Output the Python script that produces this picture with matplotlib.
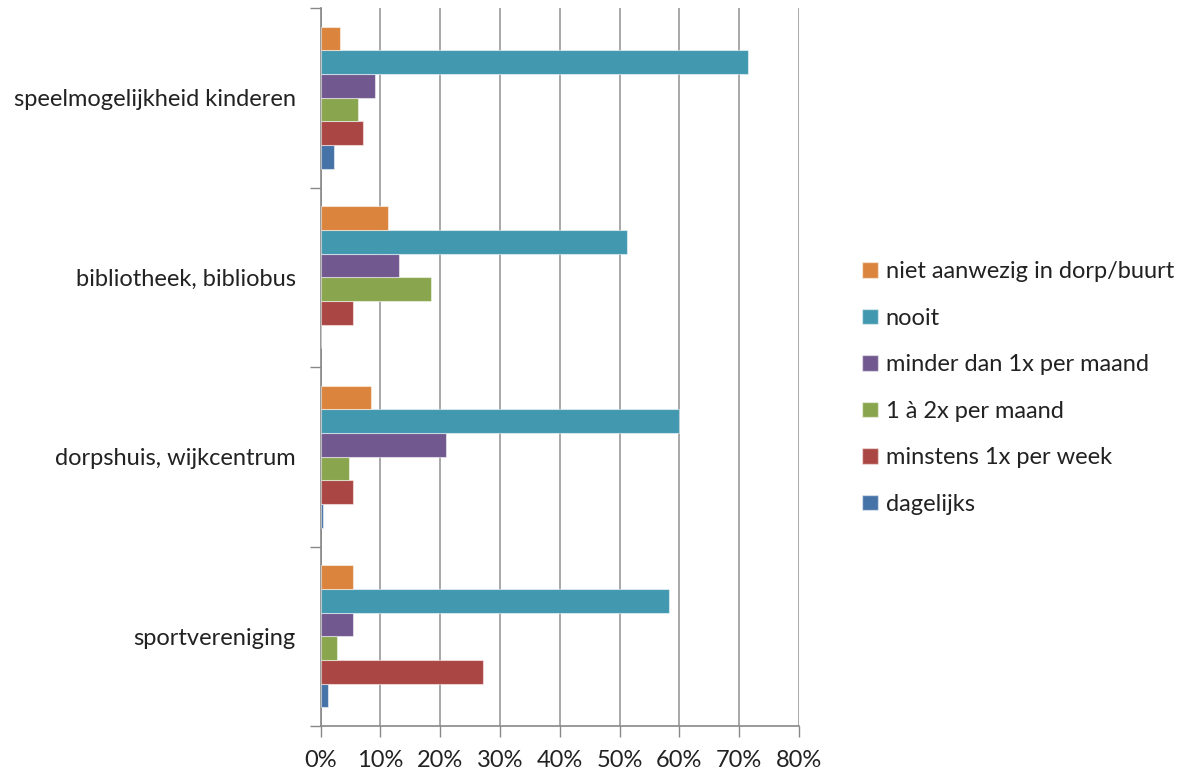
import matplotlib
matplotlib.use("Agg")
import matplotlib.pyplot as plt
import numpy as np
from matplotlib.patches import Patch

categories = ["sportvereniging", "dorpshuis, wijkcentrum", "bibliotheek, bibliobus", "speelmogelijkheid kinderen"]
series_names = ["dagelijks", "minstens 1x per week", "1 à 2x per maand",
                "minder dan 1x per maand", "nooit", "niet aanwezig in dorp/buurt"]
# values per series, in category order above (percent)
dagelijks = [1.3, 0.4, 0.0, 2.3]
minstens_week = [27.1, 5.4, 5.4, 7.1]
een_twee_maand = [2.7, 4.8, 18.4, 6.2]
minder_maand = [5.4, 21.0, 13.2, 9.1]
nooit = [58.2, 60.0, 51.3, 71.4]
niet_aanwezig = [5.4, 8.4, 11.3, 3.3]
series_values = [dagelijks, minstens_week, een_twee_maand, minder_maand, nooit, niet_aanwezig]
colors = ["#4572A7", "#AA4643", "#89A54E", "#71588F", "#4198AF", "#DB843D"]
xticks = [0, 10, 20, 30, 40, 50, 60, 70, 80]

plt.rcParams['font.family'] = ['Lato', 'DejaVu Sans']
FS = 17
fig = plt.figure(figsize=(11.84, 7.71), dpi=100)
ax = fig.add_axes([320.5/1184, 1-726/771, (799-320.5)/1184, (726-8)/771])

n = len(series_names)
bh = 0.132
y = np.arange(len(categories))
for i, (vals, c) in enumerate(zip(series_values, colors)):
    offs = (i - (n-1)/2) * bh
    ax.barh(y + offs, vals, height=bh, color=c, edgecolor=(1, 1, 1, 0.5), linewidth=0.8, zorder=3)

ax.set_xlim(0, 80)
ax.set_ylim(-0.5, len(categories)-0.5)
ax.set_xticks(xticks)
ax.set_xticklabels([f"{t}%" for t in xticks], fontsize=FS, color="#222222")
ax.set_yticks(y)
ax.set_yticklabels(categories, fontsize=FS, color="#222222")
ax.set_yticks(np.arange(-0.5, len(categories)), minor=True)
ax.tick_params(axis='y', which='major', length=0, pad=18)
ax.tick_params(axis='y', which='minor', length=8, width=1, color="#888888")
ax.tick_params(axis='x', length=8, width=1, color="#888888", pad=9)
ax.xaxis.grid(True, color="#999999", linewidth=1.2, zorder=0)
for s in ["top", "right"]:
    ax.spines[s].set_visible(False)
for s in ["left", "bottom"]:
    ax.spines[s].set_color("#888888")
    ax.spines[s].set_linewidth(1.2)

handles = [Patch(facecolor=c, edgecolor=(1, 1, 1, 0.5)) for c in colors][::-1]
labels = series_names[::-1]
fig.legend(handles, labels, loc="upper left", bbox_to_anchor=(841/1184, 1-240/771),
           frameon=False, fontsize=FS, handlelength=0.65, handleheight=0.65,
           labelspacing=1.08, handletextpad=0.35, labelcolor="#222222")

fig.savefig("out.png", dpi=100)
